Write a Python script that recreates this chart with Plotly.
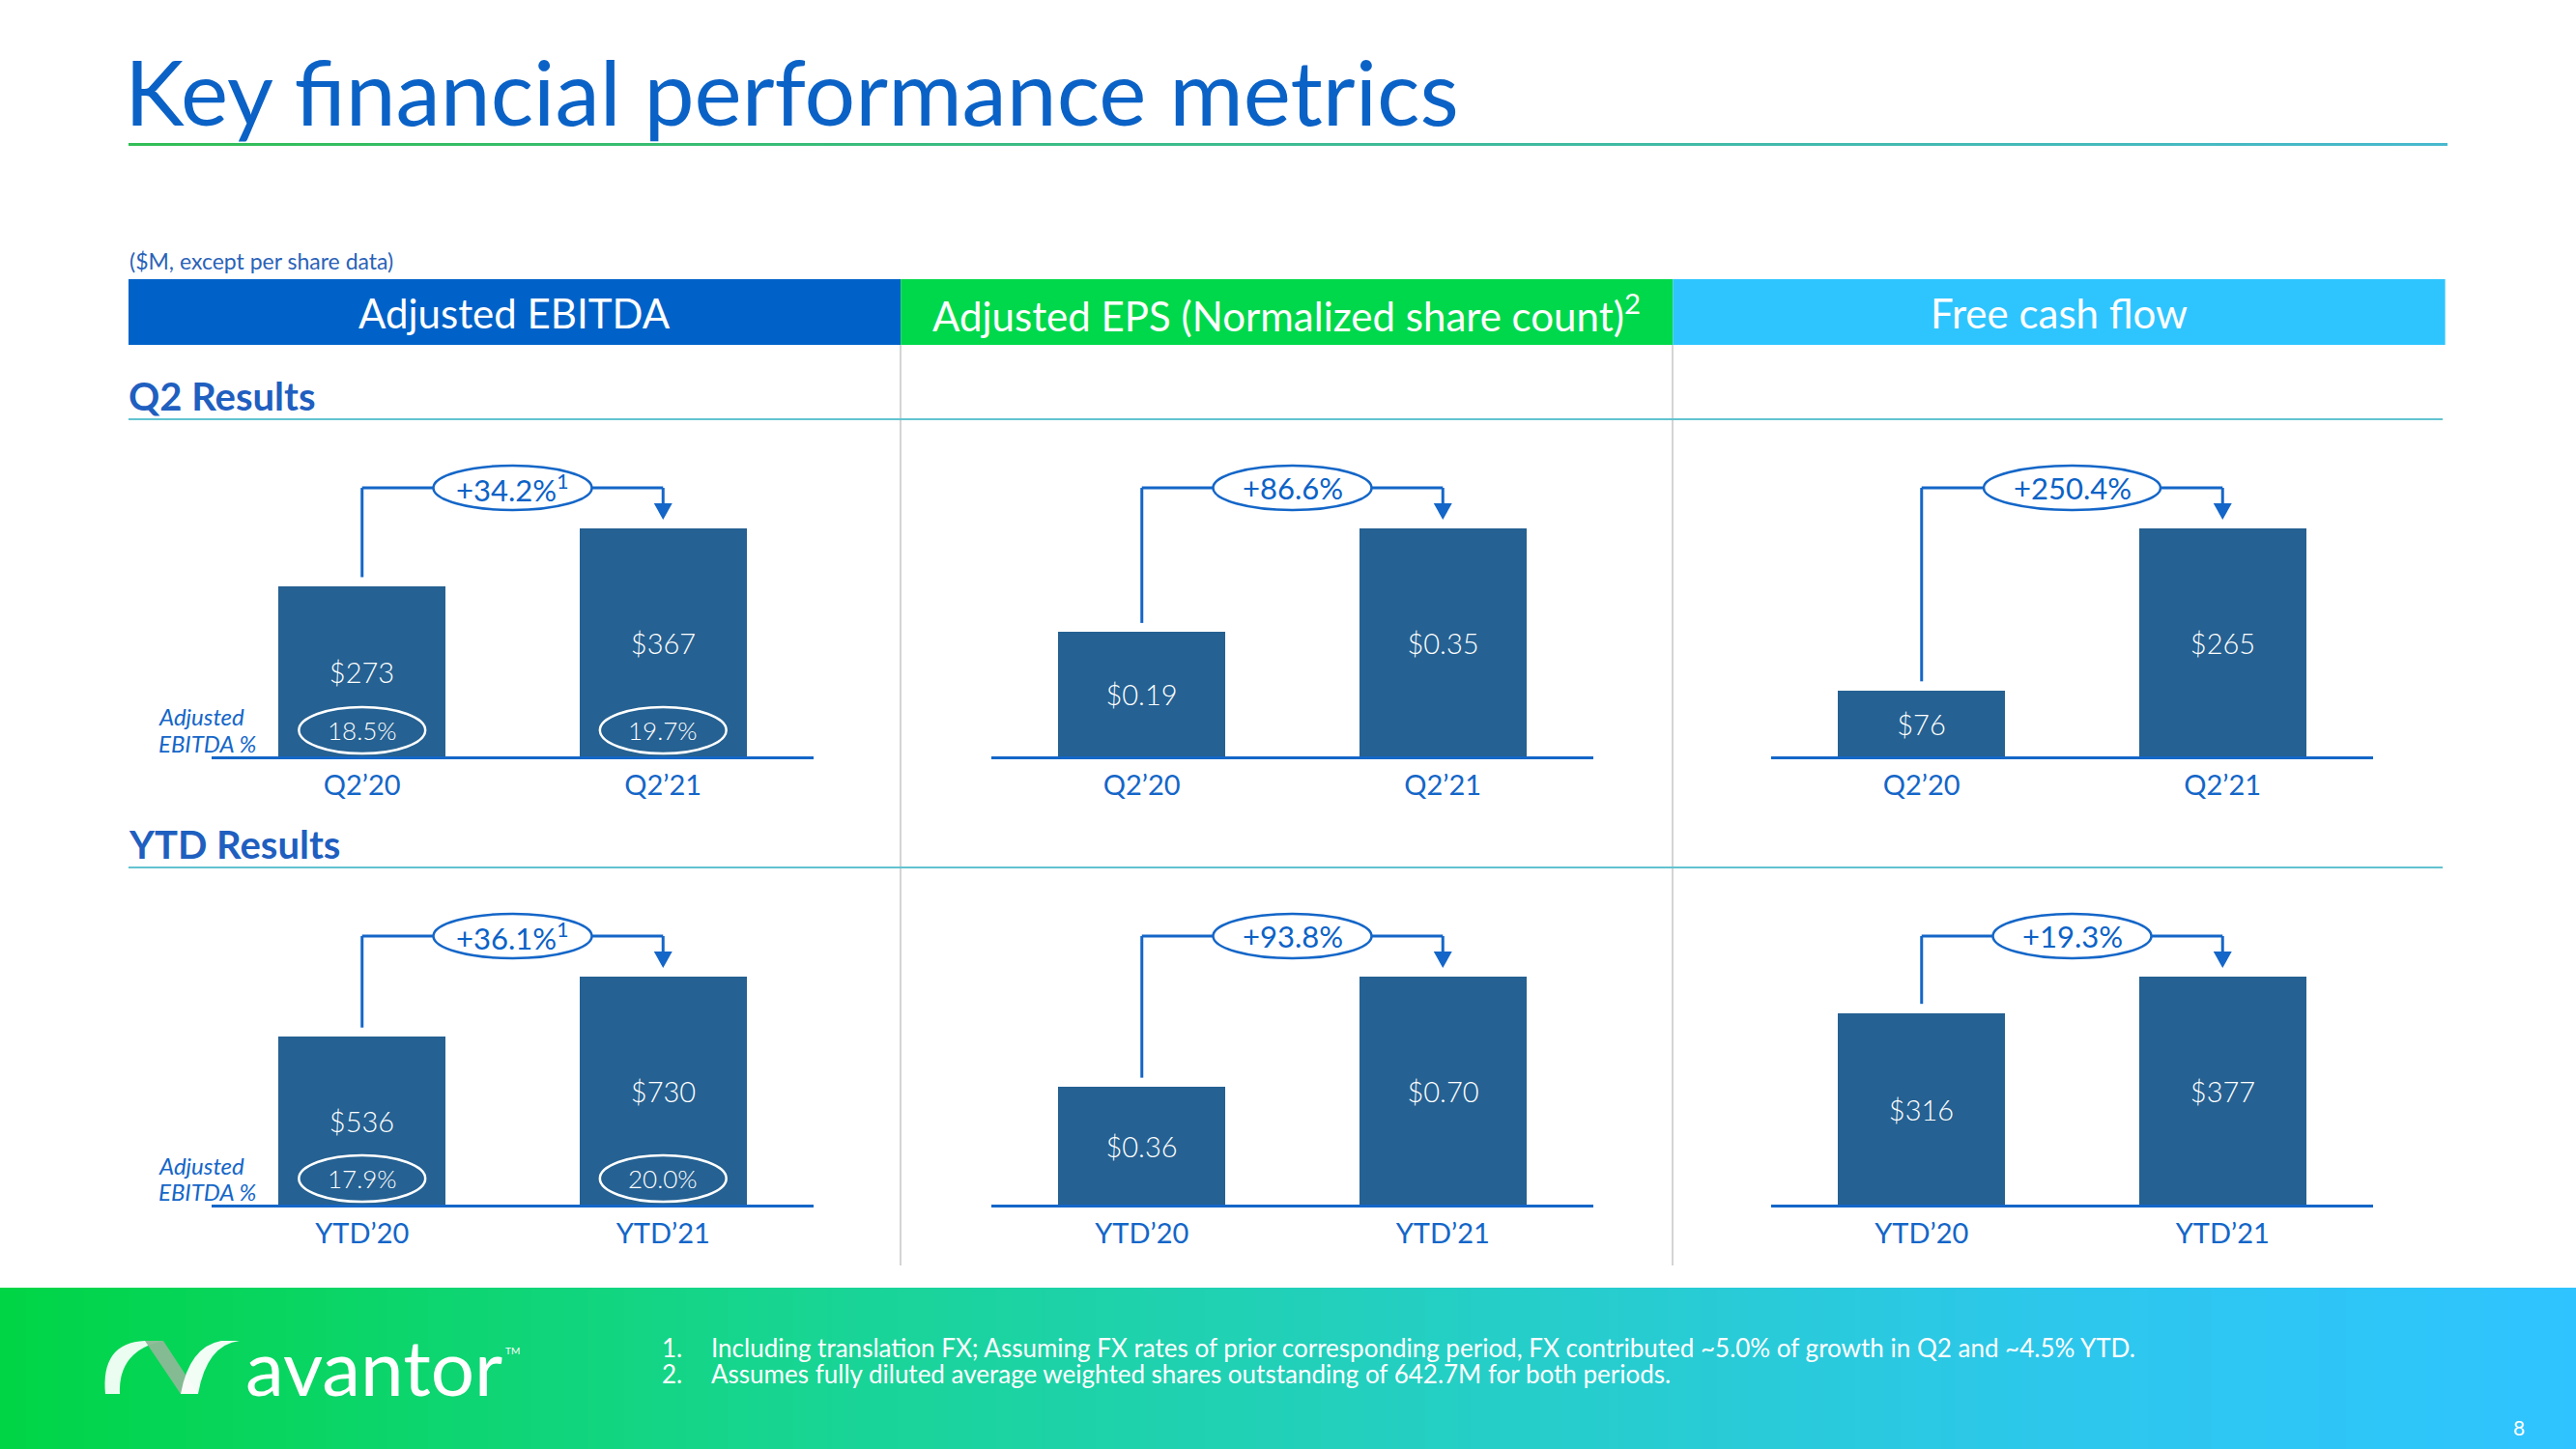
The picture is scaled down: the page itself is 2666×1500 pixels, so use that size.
import plotly.graph_objects as go

# ---------------- data ----------------
metric_titles = ["Adjusted EBITDA", "Adjusted EPS (Normalized share count)<sup>2</sup>", "Free cash flow"]
row_titles = ["Q2 Results", "YTD Results"]
q2_categories = ["Q2’20", "Q2’21"]
ytd_categories = ["YTD’20", "YTD’21"]
ebitda_q2 = [273, 367]
ebitda_ytd = [536, 730]
eps_q2 = [0.19, 0.35]
eps_ytd = [0.36, 0.70]
fcf_q2 = [76, 265]
fcf_ytd = [316, 377]
ebitda_margin_q2 = ["18.5%", "19.7%"]
ebitda_margin_ytd = ["17.9%", "20.0%"]
growth_q2 = ["+34.2%", "+86.6%", "+250.4%"]
growth_ytd = ["+36.1%", "+93.8%", "+19.3%"]
growth_note = ["1", "", ""]
value_formats = ["${:.0f}", "${:.2f}", "${:.0f}"]
footnotes = [
    "Including translation FX; Assuming FX rates of prior corresponding period, FX contributed ~5.0% of growth in Q2 and ~4.5% YTD.",
    "Assumes fully diluted average weighted shares outstanding of 642.7M for both periods.",
]

rows = [
    dict(cats=q2_categories, series=[ebitda_q2, eps_q2, fcf_q2], growth=growth_q2, margin=ebitda_margin_q2),
    dict(cats=ytd_categories, series=[ebitda_ytd, eps_ytd, fcf_ytd], growth=growth_ytd, margin=ebitda_margin_ytd),
]

# ---------------- style ----------------
W, H = 2666, 1500
FONT = "Lato"
BLUE = "#0B62C6"
LINE_BLUE = "#1466C8"
BAR = "#256192"
HDR_COLORS = ["#0062C8", "#00D84B", "#2EC5FF"]


def px(x):
    return x / W


def py(y):
    return 1 - y / H


fig = go.Figure()
shapes = []
annotations = []
layout_axes = {}

COL_STEP = 807
ROW_STEP = 464
PX_MAX = 236.0   # pixel height of tallest bar
YFAC = 1.35

for r, row in enumerate(rows):
    base = 783 + ROW_STEP * r
    for c in range(3):
        k = r * 3 + c + 1
        xn = "x" if k == 1 else f"x{k}"
        yn = "y" if k == 1 else f"y{k}"
        vals = row["series"][c]
        M = max(vals)
        u = M / PX_MAX  # data units per pixel
        x0 = 219 + COL_STEP * c
        x1 = 842 + COL_STEP * c
        fig.add_trace(go.Bar(
            x=[0, 1], y=vals, width=0.555,
            marker=dict(color=BAR, line=dict(width=0)),
            text=[value_formats[c].format(v) for v in vals],
            textposition="inside", insidetextanchor="middle", textangle=0,
            textfont=dict(color="white", size=29, family=FONT, weight=300),
            xaxis=xn, yaxis=yn, hoverinfo="skip", showlegend=False,
        ))
        layout_axes["xaxis" if k == 1 else f"xaxis{k}"] = dict(
            domain=[px(x0), px(x1)], range=[-0.5, 1.5], anchor=yn,
            tickvals=[0, 1], ticktext=row["cats"], ticks="",
            tickfont=dict(size=29, color=LINE_BLUE, family=FONT),
            ticklabelstandoff=2,
            showline=True, linecolor=LINE_BLUE, linewidth=3,
            showgrid=False, zeroline=False, fixedrange=True,
        )
        layout_axes["yaxis" if k == 1 else f"yaxis{k}"] = dict(
            domain=[py(base), py(base - PX_MAX * YFAC)], range=[0, M * YFAC],
            anchor=xn, visible=False, fixedrange=True,
        )
        # connector
        lvl = 278 * u
        lc = dict(color=LINE_BLUE, width=3)
        shapes.append(dict(type="line", xref=xn, yref=yn, x0=0, x1=0,
                           y0=vals[0] + 10 * u, y1=lvl, line=lc))
        shapes.append(dict(type="line", xref=xn, yref=yn, x0=0, x1=1,
                           y0=lvl, y1=lvl, line=lc))
        shapes.append(dict(type="line", xref=xn, yref=yn, x0=1, x1=1,
                           y0=lvl, y1=260 * u, line=lc))
        hw = 9.5 / 311.5
        shapes.append(dict(type="path", xref=xn, yref=yn,
                           path=f"M {1-hw},{262*u} L {1+hw},{262*u} L 1,{245*u} Z",
                           fillcolor=LINE_BLUE, line=dict(width=0)))
        g = row["growth"][c]
        n = len(g)
        ew = (50 + 19 * n) / 2 / 311.5
        shapes.append(dict(type="circle", xref=xn, yref=yn,
                           x0=0.5 - ew, x1=0.5 + ew, y0=lvl - 23 * u, y1=lvl + 23 * u,
                           fillcolor="white", line=dict(color=LINE_BLUE, width=2.5)))
        gtxt = g + (f"<sup>{growth_note[c]}</sup>" if growth_note[c] else "")
        annotations.append(dict(xref=xn, yref=yn, x=0.5, y=lvl, text=gtxt, showarrow=False,
                                font=dict(size=31, color=BLUE, family=FONT),
                                xanchor="center", yanchor="middle"))
        if c == 0:
            for i in range(2):
                shapes.append(dict(type="circle", xref=xn, yref=yn,
                                   x0=i - 0.21, x1=i + 0.21, y0=3 * u, y1=51 * u,
                                   line=dict(color="white", width=2.5)))
                annotations.append(dict(xref=xn, yref=yn, x=i, y=27 * u, text=row["margin"][i],
                                        showarrow=False, xanchor="center", yanchor="middle",
                                        font=dict(size=26, color="white", family=FONT, weight=300)))
            for j, t in enumerate(["Adjusted", "EBITDA %"]):
                annotations.append(dict(xref="paper", yref="paper", x=px(162), y=py(742 + 27 * j + ROW_STEP * r),
                                        text=f"<i>{t}</i>", showarrow=False, xanchor="left", yanchor="middle",
                                        font=dict(size=24, color=LINE_BLUE, family=FONT)))
    # row title and line
    annotations.append(dict(xref="paper", yref="paper", x=px(131), y=py(410 + ROW_STEP * r),
                            text=f"<b>{row_titles[r]}</b>", showarrow=False, xanchor="left", yanchor="middle",
                            font=dict(size=40, color="#1F5FC0", family=FONT)))
    shapes.append(dict(type="line", xref="paper", yref="paper", x0=px(133), x1=px(2528),
                       y0=py(434 + ROW_STEP * r), y1=py(434 + ROW_STEP * r),
                       line=dict(color="#62C3D0", width=2)))

# header bands
for c in range(3):
    a, b = 133 + 799.2 * c, 133 + 799.2 * (c + 1)
    shapes.append(dict(type="rect", xref="paper", yref="paper", x0=px(a), x1=px(b),
                       y0=py(357), y1=py(289), fillcolor=HDR_COLORS[c], line=dict(width=0), layer="below"))
    annotations.append(dict(xref="paper", yref="paper", x=px((a + b) / 2), y=py(324),
                            text=metric_titles[c], showarrow=False, xanchor="center", yanchor="middle",
                            font=dict(size=42, color="white", family=FONT)))

# vertical separators
for xs in [932, 1731]:
    shapes.append(dict(type="line", xref="paper", yref="paper", x0=px(xs), x1=px(xs),
                       y0=py(357), y1=py(1310), line=dict(color="#D4D4D4", width=2), layer="below"))

# title + subtitle
annotations.append(dict(xref="paper", yref="paper", x=px(127), y=py(94),
                        text="Key financial performance metrics", showarrow=False,
                        xanchor="left", yanchor="middle", font=dict(size=93, color=BLUE, family=FONT)))
annotations.append(dict(xref="paper", yref="paper", x=px(132), y=py(270),
                        text="($M, except per share data)", showarrow=False,
                        xanchor="left", yanchor="middle", font=dict(size=23, color="#2A62B8", family=FONT)))

# footer gradient (heatmap on hidden axes)
gx = [0, 0.25, 0.5, 0.75, 1]
fig.add_trace(go.Heatmap(x=gx, y=[0, 1], z=[gx, gx], zsmooth="best", showscale=False,
                         colorscale=[[0, "#00D545"], [0.3, "#17D590"], [0.55, "#24CFC2"], [0.8, "#2DC7EC"], [1, "#2FC4FF"]],
                         xaxis="x7", yaxis="y7", hoverinfo="skip"))
layout_axes["xaxis7"] = dict(domain=[0, 1], range=[0, 1], visible=False, anchor="y7", fixedrange=True)
layout_axes["yaxis7"] = dict(domain=[0, py(1333)], range=[0, 1], visible=False, anchor="x7", fixedrange=True)
# title underline gradient
fig.add_trace(go.Heatmap(x=[0, 1], y=[0, 1], z=[[0, 1], [0, 1]], zsmooth="best", showscale=False,
                         colorscale=[[0, "#33BE56"], [1, "#48B9CE"]],
                         xaxis="x8", yaxis="y8", hoverinfo="skip"))
layout_axes["xaxis8"] = dict(domain=[px(133), px(2533)], range=[0, 1], visible=False, anchor="y8", fixedrange=True)
layout_axes["yaxis8"] = dict(domain=[py(151), py(148)], range=[0, 1], visible=False, anchor="x8", fixedrange=True)


# logo
def ppath(cmds):
    out = []
    for cmd in cmds:
        op, pts = cmd[0], cmd[1:]
        out.append(op + " " + " ".join(f"{px(x):.5f},{py(y):.5f}" for x, y in pts))
    return " ".join(out) + " Z"


shapes.append(dict(type="path", xref="paper", yref="paper",
                   path=ppath([("M", (109, 1443)), ("Q", (104, 1390), (150, 1388)), ("L", (169, 1388)),
                               ("Q", (122, 1398), (124, 1443))]),
                   fillcolor="rgba(255,255,255,0.92)", line=dict(width=0)))
shapes.append(dict(type="path", xref="paper", yref="paper",
                   path=ppath([("M", (150, 1388)), ("L", (169, 1388)), ("L", (205, 1443)), ("L", (187, 1443))]),
                   fillcolor="rgba(140,185,150,0.95)", line=dict(width=0)))
shapes.append(dict(type="path", xref="paper", yref="paper",
                   path=ppath([("M", (187, 1443)), ("L", (205, 1443)), ("Q", (214, 1392), (248, 1388)),
                               ("L", (229, 1388)), ("Q", (196, 1394), (187, 1443))]),
                   fillcolor="rgba(255,255,255,0.95)", line=dict(width=0)))
annotations.append(dict(xref="paper", yref="paper", x=px(252), y=py(1414), text="avantor", showarrow=False,
                        xanchor="left", yanchor="middle", font=dict(size=80, color="white", family=FONT)))
annotations.append(dict(xref="paper", yref="paper", x=px(521), y=py(1398), text="TM", showarrow=False,
                        xanchor="left", yanchor="middle", font=dict(size=10, color="white", family=FONT)))

# footnotes
for i, t in enumerate(footnotes):
    yy = py(1395 + 27 * i)
    annotations.append(dict(xref="paper", yref="paper", x=px(683), y=yy, text=f"{i+1}.", showarrow=False,
                            xanchor="left", yanchor="middle", font=dict(size=26, color="white", family=FONT)))
    annotations.append(dict(xref="paper", yref="paper", x=px(734), y=yy, text=t, showarrow=False,
                            xanchor="left", yanchor="middle", font=dict(size=26, color="white", family=FONT)))
annotations.append(dict(xref="paper", yref="paper", x=px(2607), y=py(1477), text="8", showarrow=False,
                        xanchor="center", yanchor="middle", font=dict(size=21, color="white", family=FONT)))

fig.update_layout(
    width=W, height=H, margin=dict(l=0, r=0, t=0, b=0),
    paper_bgcolor="white", plot_bgcolor="rgba(0,0,0,0)",
    shapes=shapes, annotations=annotations, showlegend=False,
    font=dict(family=FONT), bargap=0,
    **layout_axes,
)
fig.write_html("out.html", config={"displayModeBar": False},
               post_script="document.body.style.margin='0';document.body.style.overflow='hidden';")
